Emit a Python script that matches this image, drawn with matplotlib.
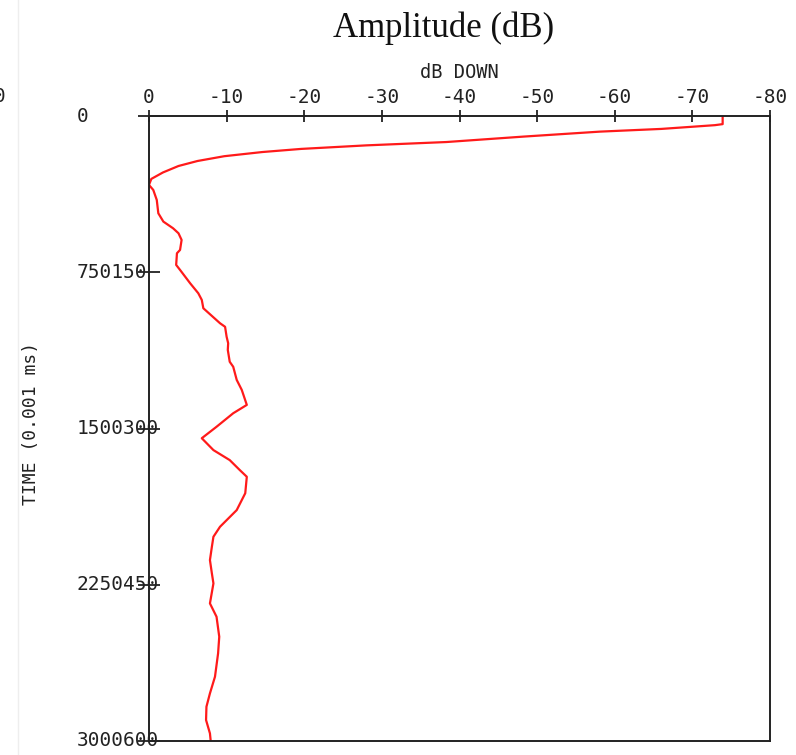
import matplotlib
matplotlib.use("Agg")
import matplotlib.pyplot as plt
from matplotlib.lines import Line2D

# ---- data ----
time_us = [0, 39000, 44000, 62000, 75000, 99000, 125000, 141000, 158000, 173000,
           193000, 216000, 240000, 271000, 302000, 331000, 355000, 403000, 467000,
           507000, 539000, 563000, 595000, 643000, 659000, 715000, 739000, 803000,
           851000, 883000, 923000, 995000, 1012000, 1060000, 1091000, 1123000,
           1180000, 1204000, 1267000, 1315000, 1387000, 1427000, 1492000, 1547000,
           1604000, 1652000, 1700000, 1732000, 1811000, 1892000, 1972000, 2020000,
           2068000, 2132000, 2196000, 2244000, 2340000, 2404000, 2500000, 2580000,
           2692000, 2772000, 2836000, 2900000, 2964000, 3000600]
db_down = [-73.9, -73.9, -72.9, -66.0, -58.1, -48.2, -38.3, -28.0, -19.6, -14.6,
           -9.7, -6.25, -3.8, -1.8, -0.3, 0.0, -0.55, -1.0, -1.2,
           -1.85, -3.1, -3.8, -4.2, -4.0, -3.6, -3.5, -4.0, -5.3,
           -6.35, -6.8, -7.0, -9.15, -9.8, -10.0, -10.2, -10.15,
           -10.4, -10.85, -11.3, -11.95, -12.6, -10.85, -8.7, -6.8,
           -8.3, -10.4, -11.7, -12.6, -12.4, -11.3, -9.15, -8.3,
           -8.1, -7.85, -8.1, -8.3, -7.85, -8.7, -9.05, -8.9,
           -8.5, -7.85, -7.4, -7.35, -7.85, -7.95]

x_ticks = [0, -10, -20, -30, -40, -50, -60, -70, -80]
y_ticks = [0, 750150, 1500300, 2250450, 3000600]
y_tick_labels = ["0", "750150", "1500300", "2250450", "3000600"]

title_text = "Amplitude (dB)"
x_label = "dB DOWN"
y_label = "TIME (0.001 ms)"

# ---- style ----
plt.rcParams["axes.unicode_minus"] = False
plt.rcParams["font.family"] = ["DejaVu Sans Mono"]
ink = "#222222"

W, H = 796, 755
fig = plt.figure(figsize=(W / 100, H / 100), dpi=100)
ax = fig.add_axes([149 / W, 1 - 741 / H, 621 / W, 625 / H])

ax.plot(db_down, time_us, color="#ff1a1a", lw=1.6)
ax.set_xlim(0, -80)
ax.set_ylim(3000600, 0)

ax.xaxis.tick_top()
ax.set_xticks(x_ticks)
ax.set_yticks(y_ticks)
ax.set_yticklabels(y_tick_labels)

for s in ax.spines.values():
    s.set_color(ink)
    s.set_linewidth(1.4)

ax.tick_params(axis="x", direction="inout", length=8.6, width=1.3, pad=2,
               labelsize=14, colors=ink)
ax.tick_params(axis="y", direction="inout", length=15.8, width=1.3, pad=44,
               labelsize=14, colors=ink)
for lab in ax.get_yticklabels():
    lab.set_horizontalalignment("left")
    lab.set_verticalalignment("center")

ax.set_xlabel(x_label, fontsize=13.5, color=ink)
ax.xaxis.set_label_position("top")
ax.xaxis.set_label_coords(0.5, (741 - 73) / 625)
ax.xaxis.label.set_verticalalignment("center")

ax.set_ylabel(y_label, fontsize=13, color=ink)
ax.yaxis.set_label_coords((31 - 149) / 621, (741 - 423) / 625)
ax.yaxis.label.set_verticalalignment("center")

fig.text(444 / W, 1 - 28 / H, title_text, ha="center", va="center",
         fontsize=25, family="Liberation Serif", color="#111111")

# label clipped at the far left edge, as in the reference
fig.text(-6 / W, 1 - 97 / H, "0", ha="left", va="center", fontsize=14, color=ink)
fig.add_artist(Line2D([18 / W, 18 / W], [0, 1], transform=fig.transFigure,
                      color="#eeeeee", lw=1))

fig.savefig("out.png", dpi=100)
